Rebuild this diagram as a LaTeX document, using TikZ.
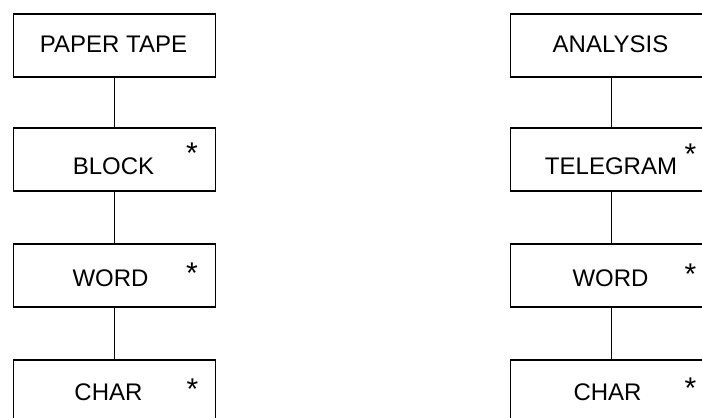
\documentclass[tikz,border=0pt]{standalone}
\usepackage{fontspec}
\setmainfont{Liberation Sans}
\begin{document}
\begin{tikzpicture}[x=1bp,y=-1bp,
  box/.style={draw=black,line width=1.5bp,minimum width=202bp,minimum height=63bp,inner sep=0pt,anchor=north west},
  lbl/.style={inner sep=0pt,font=\fontsize{24bp}{28bp}\selectfont},
  star/.style={inner sep=0pt,font=\fontsize{30bp}{34bp}\selectfont},
  link/.style={line width=1.5bp}]
\useasboundingbox (0,0) rectangle (702,417);
% left column
\node[box] (l1) at (12.5,13) {};
\node[box] (l2) at (12.5,127) {};
\node[box] (l3) at (12.5,243) {};
\node[box] (l4) at (12.5,359) {};
\node[lbl] (l1t) at (113.5,44.5) {PAPER TAPE};
\node[lbl] (l2t) at (113.5,166.5) {BLOCK};
\node[lbl] (l3t) at (110.5,278) {WORD};
\node[lbl] (l4t) at (108.5,392.5) {CHAR};
\node[star] (l2s) at (192,153) {*};
\node[star] (l3s) at (192,273) {*};
\node[star] (l4s) at (192.5,389) {*};
\draw[link] (l1.south) -- (l2.north);
\draw[link] (l2.south) -- (l3.north);
\draw[link] (l3.south) -- (l4.north);
% right column
\node[box] (r1) at (509.5,13) {};
\node[box] (r2) at (509.5,127) {};
\node[box] (r3) at (509.5,243) {};
\node[box] (r4) at (509.5,359) {};
\node[lbl] (r1t) at (610.5,44.5) {ANALYSIS};
\node[lbl] (r2t) at (611,166.5) {TELEGRAM};
\node[lbl] (r3t) at (610.5,278) {WORD};
\node[lbl] (r4t) at (607.5,392.5) {CHAR};
\node[star] (r2s) at (690.5,154.5) {*};
\node[star] (r3s) at (690.5,274) {*};
\node[star] (r4s) at (690.5,388.5) {*};
\draw[link] (r1.south) -- (r2.north);
\draw[link] (r2.south) -- (r3.north);
\draw[link] (r3.south) -- (r4.north);
\end{tikzpicture}
\end{document}
